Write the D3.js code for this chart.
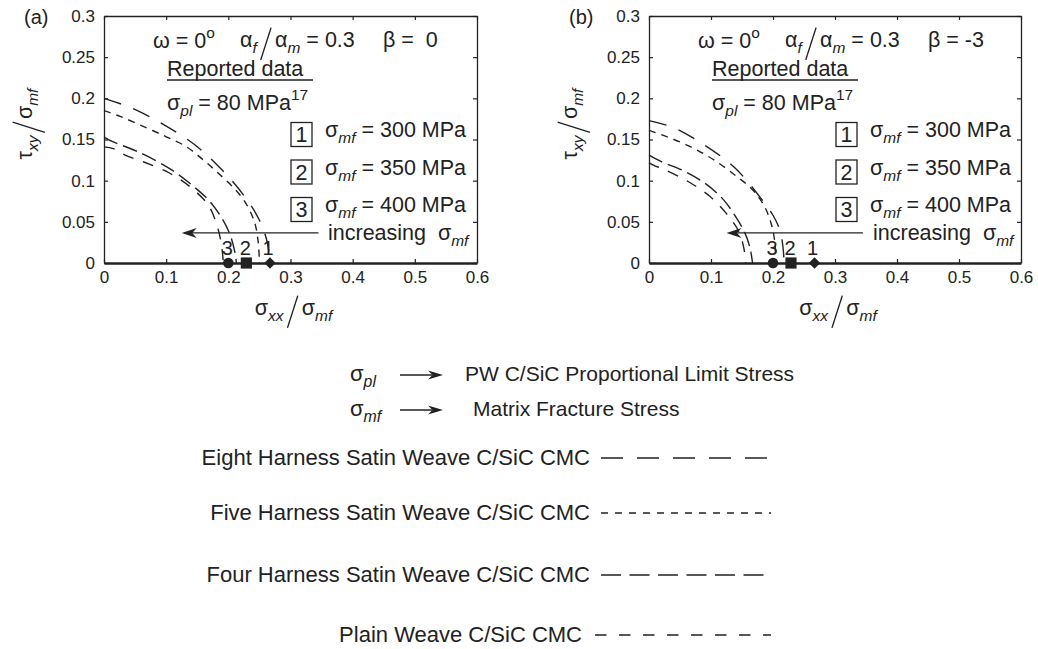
<!DOCTYPE html>
<html>
<head>
<meta charset="utf-8">
<script src="https://cdn.jsdelivr.net/npm/d3@7"></script>
<style>
  body { margin: 0; background: #fff; }
  svg { font-family: "Liberation Sans", Arial, Helvetica, sans-serif; }
  text { fill: #222; }
</style>
</head>
<body>
<script>
// axis ticks
var xTicks = [0, 0.1, 0.2, 0.3, 0.4, 0.5, 0.6];
var yTicks = [0, 0.05, 0.1, 0.15, 0.2, 0.25, 0.3];

// curves, beta = 0   [sigma_xx/sigma_mf, tau_xy/sigma_mf]
var eightA = [[0, 0.200], [0.045, 0.188], [0.096, 0.168], [0.147, 0.143], [0.190, 0.113], [0.225, 0.082], [0.248, 0.055], [0.261, 0.030], [0.266, 0.010], [0.267, 0]];
var fiveA = [[0, 0.185], [0.026, 0.178], [0.063, 0.166], [0.101, 0.153], [0.133, 0.141], [0.160, 0.125], [0.184, 0.109], [0.209, 0.091], [0.227, 0.074], [0.242, 0.050], [0.248, 0.026], [0.250, 0]];
var fourA = [[0, 0.153], [0.015, 0.147], [0.055, 0.135], [0.109, 0.113], [0.144, 0.093], [0.170, 0.075], [0.190, 0.054], [0.203, 0.034], [0.210, 0.015], [0.213, 0]];
var plainA = [[0, 0.141], [0.015, 0.139], [0.034, 0.131], [0.063, 0.123], [0.106, 0.109], [0.141, 0.091], [0.168, 0.070], [0.182, 0.045], [0.189, 0.022], [0.192, 0]];

// curves, beta = -3
var eightB = [[0, 0.173], [0.041, 0.164], [0.092, 0.142], [0.138, 0.116], [0.178, 0.081], [0.200, 0.058], [0.211, 0.040], [0.216, 0.020], [0.218, 0]];
var fiveB = [[0, 0.161], [0.030, 0.153], [0.065, 0.142], [0.103, 0.126], [0.140, 0.106], [0.167, 0.089], [0.186, 0.069], [0.197, 0.048], [0.203, 0.025], [0.205, 0]];
var fourB = [[0, 0.131], [0.020, 0.123], [0.053, 0.113], [0.090, 0.097], [0.120, 0.077], [0.140, 0.056], [0.155, 0.036], [0.163, 0.018], [0.167, 0]];
var plainB = [[0, 0.122], [0.007, 0.119], [0.026, 0.113], [0.063, 0.099], [0.098, 0.081], [0.125, 0.060], [0.145, 0.038], [0.153, 0.018], [0.156, 0]];

// reported data points on the x axis (1, 2, 3)
var markerLabels = ["1", "2", "3"];
var markerX = [0.267, 0.229, 0.2];
var mfValues = ["300", "350", "400"];
var betaValues = ["\u00a00", "-3"];

var weaves = ["Eight Harness Satin Weave C/SiC CMC", "Five Harness Satin Weave C/SiC CMC",
              "Four Harness Satin Weave C/SiC CMC", "Plain Weave C/SiC CMC"];
var dashes = ["18,13", "7,6", "15,6", "11,10"];
var legendDashes = ["22,14", "7,7", "20,8.5", "11.5,12.5"];

var W = 1038, H = 649;
var ink = "#222";
var NB = "\u00a0";
var fs = 21.5;

var svg = d3.select("body").append("svg")
    .attr("width", W)
    .attr("height", H);

// text with sub/superscripts, segs: {t, sub, sup, it}
function rich(parent, x, y, segs, size, anchor) {
    var t = parent.append("text")
        .attr("x", x).attr("y", y)
        .attr("font-size", size)
        .attr("text-anchor", anchor || "start");
    var cur = 0;
    segs.forEach(function (s) {
        var off = s.sub ? size * 0.28 : (s.sup ? -size * 0.48 : 0);
        var ts = t.append("tspan").text(s.t).attr("dy", off - cur);
        if (s.sub || s.sup) ts.attr("font-size", size * 0.72);
        if (s.it) ts.attr("font-style", "italic");
        cur = off;
    });
    return t;
}

// "a / b" with a tall thin slash, laid out from x=0 on baseline y=0
function slashed(parent, a, b, size, pad) {
    var g = parent.append("g");
    var ta = rich(g, 0, 0, a, size);
    var wa = ta.node().getComputedTextLength();
    var sw = size * 0.48;
    g.append("line")
        .attr("x1", wa + pad).attr("y1", size * 0.6)
        .attr("x2", wa + pad + sw).attr("y2", -size * 0.9)
        .attr("stroke", ink).attr("stroke-width", 1.4);
    var tb = rich(g, wa + sw + 2 * pad, 0, b, size);
    var wb = tb.node().getComputedTextLength();
    return {g: g, w: wa + sw + 2 * pad + wb};
}

function arrowHead(parent, xt, yt, len, half) {
    parent.append("path")
        .attr("d", "M" + xt + "," + yt + "L" + (xt + len) + "," + (yt - half) +
              "L" + (xt + len * 0.7) + "," + yt + "L" + (xt + len) + "," + (yt + half) + "Z")
        .attr("fill", ink);
}

function panel(left, right, series, beta, tag) {
    var x = d3.scaleLinear().domain([0, 0.6]).range([left, right]);
    var y = d3.scaleLinear().domain([0, 0.3]).range([263, 16]);
    var g = svg.append("g");

    var fmt = function (d) { return String(d); };
    var bottom = g.append("g").attr("transform", "translate(0," + y(0) + ")")
        .call(d3.axisBottom(x).tickValues(xTicks).tickSize(-4).tickSizeOuter(0).tickPadding(8).tickFormat(fmt));
    g.append("g").attr("transform", "translate(" + left + ",0)")
        .call(d3.axisLeft(y).tickValues(yTicks).tickSize(-4).tickSizeOuter(0).tickPadding(9).tickFormat(fmt));
    g.append("g").attr("transform", "translate(0," + y(0.3) + ")")
        .call(d3.axisTop(x).tickValues(xTicks).tickSize(-4).tickSizeOuter(0).tickFormat(""));
    g.append("g").attr("transform", "translate(" + right + ",0)")
        .call(d3.axisRight(y).tickValues(yTicks).tickSize(-4).tickSizeOuter(0).tickFormat(""));
    g.selectAll(".domain").attr("stroke", ink).attr("stroke-width", 1.3);
    g.selectAll(".tick line").attr("stroke", ink).attr("stroke-width", 1.2);
    g.selectAll(".tick text").attr("fill", ink).attr("font-size", 17)
        .attr("font-family", "Liberation Sans, Arial, sans-serif");
    bottom.select(".domain").attr("stroke-width", 2.6);

    // curves
    var line = d3.line()
        .x(function (d) { return x(d[0]); })
        .y(function (d) { return y(d[1]); })
        .curve(d3.curveCatmullRom.alpha(0.5));
    series.forEach(function (s, i) {
        g.append("path").datum(s)
            .attr("d", line)
            .attr("fill", "none")
            .attr("stroke", ink)
            .attr("stroke-width", 1.4)
            .attr("stroke-dasharray", dashes[i]);
    });

    // reported data markers
    var shapes = [d3.symbolSquare, d3.symbolSquare, d3.symbolCircle];
    var sizes = [64, 125, 88];
    markerX.forEach(function (v, i) {
        g.append("path")
            .attr("d", d3.symbol().type(shapes[i]).size(sizes[i]))
            .attr("transform", "translate(" + x(v) + "," + y(0) + ")" + (i === 0 ? " rotate(45)" : ""))
            .attr("fill", ink);
        g.append("text").attr("x", x(v) - (i === 0 ? 2 : 1)).attr("y", 255)
            .attr("text-anchor", "middle").attr("font-size", 20).text(markerLabels[i]);
    });

    // increasing arrow
    g.append("line")
        .attr("x1", x(0.345)).attr("y1", y(0.0365))
        .attr("x2", x(0.13)).attr("y2", y(0.0365))
        .attr("stroke", ink).attr("stroke-width", 1.3);
    arrowHead(g, x(0.125), y(0.0365), 15, 5);

    // annotations
    g.append("text").attr("x", left - 80).attr("y", 24).attr("font-size", 20).text(tag);
    rich(g, left + 49, 48, [{t: "ω = 0"}, {t: "o", sup: true}], fs);
    var al = slashed(g, [{t: "α"}, {t: "f", sub: true, it: true}],
        [{t: "α"}, {t: "m", sub: true, it: true}, {t: NB + "= 0.3"}], fs, 4);
    al.g.attr("transform", "translate(" + (left + 136) + ",47)");
    g.append("text").attr("x", left + 279).attr("y", 47).attr("font-size", fs)
        .text("β =" + NB + beta);

    g.append("text").attr("x", left + 63).attr("y", 76).attr("font-size", fs).text("Reported data");
    g.append("line").attr("x1", left + 63).attr("x2", left + 209).attr("y1", 80).attr("y2", 80)
        .attr("stroke", ink).attr("stroke-width", 1.3);
    rich(g, left + 63, 110, [{t: "σ"}, {t: "pl", sub: true, it: true}, {t: NB + "= 80 MPa"}, {t: "17", sup: true}], fs);

    mfValues.forEach(function (v, i) {
        var top = 122.5 + i * 37.5;
        g.append("rect").attr("x", left + 187).attr("y", top).attr("width", 21).attr("height", 24)
            .attr("fill", "none").attr("stroke", ink).attr("stroke-width", 1.3);
        g.append("text").attr("x", left + 197.5).attr("y", top + 19.5).attr("text-anchor", "middle")
            .attr("font-size", fs).text(String(i + 1));
        rich(g, left + 221, top + 14.5, [{t: "σ"}, {t: "mf", sub: true, it: true}, {t: NB + "= " + v + " MPa"}], fs);
    });
    rich(g, left + 224, 240, [{t: "increasing" + NB + NB + "σ"}, {t: "mf", sub: true, it: true}], fs);

    // axis labels
    var yl = g.append("g").attr("transform", "translate(" + (left - 72) + ",124) rotate(-90)");
    var ylab = slashed(yl, [{t: "τ"}, {t: "xy", sub: true, it: true}], [{t: "σ"}, {t: "mf", sub: true, it: true}], fs, 3);
    ylab.g.attr("transform", "translate(" + (-ylab.w / 2) + ",0)");
    var xl = g.append("g").attr("transform", "translate(" + ((left + right) / 2 + 3) + ",315)");
    var xlab = slashed(xl, [{t: "σ"}, {t: "xx", sub: true, it: true}], [{t: "σ"}, {t: "mf", sub: true, it: true}], fs, 4);
    xlab.g.attr("transform", "translate(" + (-xlab.w / 2) + ",0)");
}

panel(104, 477, [eightA, fiveA, fourA, plainA], betaValues[0], "(a)");
panel(649, 1021, [eightB, fiveB, fourB, plainB], betaValues[1], "(b)");

// definitions block
var defs = [
    {sub: "pl", text: "PW C/SiC Proportional Limit Stress", tx: 465, base: 381, ay: 375},
    {sub: "mf", text: "Matrix Fracture Stress", tx: 473, base: 416, ay: 410}
];
defs.forEach(function (d) {
    rich(svg, 350, d.base, [{t: "σ"}, {t: d.sub, sub: true, it: true}], 22);
    svg.append("line").attr("x1", 400).attr("x2", 432).attr("y1", d.ay).attr("y2", d.ay)
        .attr("stroke", ink).attr("stroke-width", 1.5);
    arrowHead(svg, 443, d.ay, -15, 4.5);
    svg.append("text").attr("x", d.tx).attr("y", d.base).attr("font-size", 21).text(d.text);
});

// line-style legend
var legendBase = [465, 520, 582, 642];
var legendEnd = [590, 590, 590, 582];
weaves.forEach(function (w, i) {
    svg.append("text").attr("x", legendEnd[i]).attr("y", legendBase[i])
        .attr("text-anchor", "end").attr("font-size", 22).text(w);
    svg.append("line")
        .attr("x1", legendEnd[i] + 11 + (i === 3 ? 2 : 0)).attr("x2", 771)
        .attr("y1", legendBase[i] - 7).attr("y2", legendBase[i] - 7)
        .attr("stroke", ink).attr("stroke-width", 1.4)
        .attr("stroke-dasharray", legendDashes[i]);
});
</script>
</body>
</html>
